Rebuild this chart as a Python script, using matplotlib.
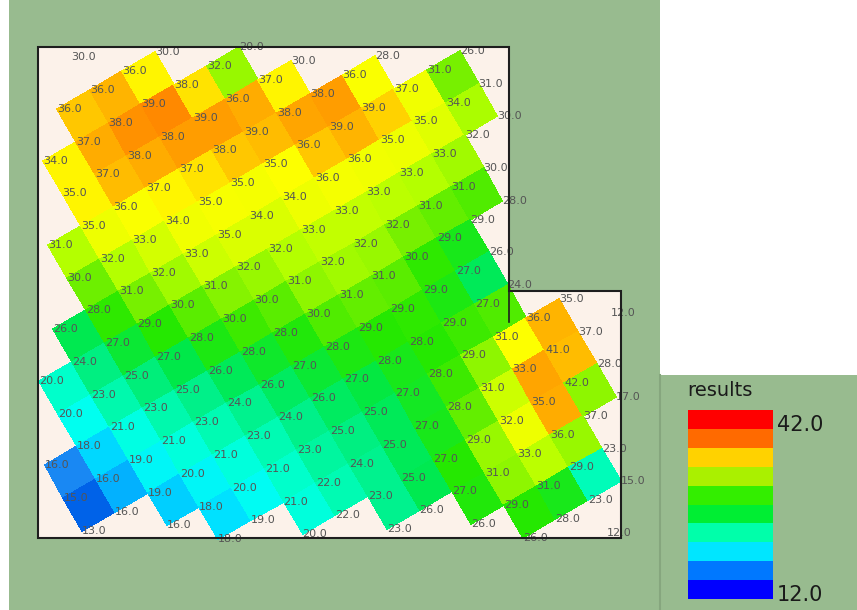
import numpy as np
import matplotlib
matplotlib.use('Agg')
import matplotlib.pyplot as plt
import matplotlib as mpl
from matplotlib.colors import LinearSegmentedColormap, ListedColormap, BoundaryNorm, Normalize
from matplotlib.patches import Polygon, Rectangle
from matplotlib.transforms import Affine2D

# node values of the result grid, one list per grid row j:
# (first column index i, values along the row)
row_m1 = (1, [30])
row_00 = (0, [36, 36, 36, 30])
row_01 = (-1, [34, 37, 38, 39, 38, 32, 20])
row_02 = (-1, [35, 37, 38, 38, 39, 36, 37, 30])
row_03 = (-2, [31, 35, 36, 37, 37, 38, 39, 38, 38, 36, 28])
row_04 = (-2, [30, 32, 33, 34, 35, 35, 35, 36, 39, 39, 37, 31, 26])
row_05 = (-3, [26, 28, 31, 32, 33, 35, 34, 34, 36, 36, 35, 35, 34, 31])
row_06 = (-4, [20, 24, 27, 29, 30, 31, 32, 32, 33, 33, 33, 33, 33, 32, 30])
row_07 = (-4, [20, 23, 25, 27, 28, 30, 30, 31, 32, 32, 32, 31, 31, 30])
row_08 = (-5, [16, 18, 21, 23, 25, 26, 28, 28, 30, 31, 31, 30, 29, 29, 28])
row_09 = (-5, [15, 16, 19, 21, 23, 24, 26, 27, 28, 29, 29, 29, 27, 26])
row_10 = (-5, [13, 16, 19, 20, 21, 23, 24, 26, 27, 28, 28, 29, 27, 24])
row_11 = (-3, [16, 18, 20, 21, 23, 25, 25, 27, 28, 29, 31, 36, 35])
row_12 = (-2, [18, 19, 21, 22, 24, 25, 27, 28, 31, 33, 41, 37, 12])
row_13 = (0, [20, 22, 23, 25, 27, 29, 32, 35, 42, 28])
row_14 = (2, [23, 26, 27, 31, 33, 36, 37, 17])
row_15 = (4, [26, 29, 31, 29, 23])
row_16 = (5, [26, 28, 23, 15])
row_17 = (7, [12])

rows = [row_m1, row_00, row_01, row_02, row_03, row_04, row_05, row_06, row_07,
        row_08, row_09, row_10, row_11, row_12, row_13, row_14, row_15, row_16, row_17]
j_first = -1

# legend
legend_title = 'results'
legend_edges = [12, 15, 18, 21, 24, 27, 30, 33, 36, 39, 42]
legend_colors = ['#0000ff', '#0078ff', '#00e6ff', '#00ffaa', '#00ee33',
                 '#33ee00', '#aaf000', '#ffd200', '#ff6a00', '#ff0000']

# colour ramp used for the cells
cell_stops = [12, 15, 16.5, 17.5, 19, 20.5, 22, 24.5, 26.5, 28.5, 30.5, 32,
              34, 35.5, 36.3, 37, 38.5, 42]
cell_colors = ['#0000ff', '#0064e8', '#1e90f5', '#00b4ff', '#00ecff', '#00fff0',
               '#00ffc4', '#00f088', '#00e848', '#26e800', '#78f000', '#b4ff00',
               '#eeff00', '#ffff00', '#ffe000', '#ffbe00', '#ff8c00', '#ff2000']
vmin, vmax = 12, 42

# build the node array (NaN where there is no node)
i_min = min(r[0] for r in rows)
i_max = max(r[0] + len(r[1]) - 1 for r in rows)
n_i = i_max - i_min + 1
n_j = len(rows)
V = np.full((n_j, n_i), np.nan)
for k, (i0, vals) in enumerate(rows):
    V[k, i0 - i_min:i0 - i_min + len(vals)] = vals

# cell value = mean of its four corners, only where all corners exist
C = (V[:-1, :-1] + V[:-1, 1:] + V[1:, :-1] + V[1:, 1:]) / 4.0
C = np.ma.masked_invalid(C)
I, J = np.meshgrid(np.arange(i_min, i_max + 1), np.arange(j_first, j_first + n_j))

green = '#98bb8f'
cream = '#fcf2ea'

fig = plt.figure(figsize=(8.57, 6.10), dpi=100)
fig.patch.set_facecolor(green)
ax = fig.add_axes([0, 0, 1, 1])
ax.set_xlim(0, 857)
ax.set_ylim(610, 0)
ax.set_axis_off()

# panel backgrounds
ax.add_patch(Rectangle((0, 0), 9, 610, facecolor='white', edgecolor='none', zorder=0))
ax.add_patch(Rectangle((660, 0), 197, 375, facecolor='white', edgecolor='none', zorder=0))
ax.plot([660, 660], [375, 610], color='#86a67e', lw=1.5, zorder=0)

# L-shaped plot area
outline = [(38, 47), (509, 47), (509, 291), (621, 291), (621, 538), (38, 538)]
ax.add_patch(Polygon(outline, closed=True, facecolor=cream, edgecolor='none', zorder=1))

# rotated grid: 37.8 px per cell, turned by 30 degrees
grid_tf = Affine2D().scale(37.77).rotate_deg(-30).translate(57, 109) + ax.transData

cell_cmap = LinearSegmentedColormap.from_list(
    'cells', [((s - vmin) / (vmax - vmin), c) for s, c in zip(cell_stops, cell_colors)])
ax.pcolormesh(I, J, C, cmap=cell_cmap, norm=Normalize(vmin, vmax), shading='flat',
              edgecolors='face', linewidth=0.3, transform=grid_tf, zorder=2)

# node labels
for k, (i0, vals) in enumerate(rows):
    j = j_first + k
    for n, v in enumerate(vals):
        ax.text(i0 + n, j, f'{v:.1f}', transform=grid_tf, ha='left', va='center',
                fontsize=8, color='#555555', zorder=4)

# frame on top
ax.add_patch(Polygon(outline, closed=True, facecolor='none', edgecolor='#1e1e1e',
                     lw=1.5, zorder=5))
ax.plot([509, 509], [291, 322], color='#1e1e1e', lw=1.2, zorder=5)

# legend bar
cax = fig.add_axes([688 / 857, 1 - 599 / 610, 85 / 857, 189 / 610])
cb = mpl.colorbar.ColorbarBase(cax, cmap=ListedColormap(legend_colors),
                               norm=BoundaryNorm(legend_edges, len(legend_colors)),
                               orientation='vertical')
cb.outline.set_visible(False)
cax.set_yticks([])
cax.set_yticks([], minor=True)
cax.tick_params(which='both', length=0, labelright=False, labelleft=False)
ax.text(687, 391, legend_title, fontsize=14, color='#1a1a1a', ha='left', va='center')
ax.text(777, 425, f'{legend_edges[-1]:.1f}', fontsize=15, color='#1a1a1a',
        ha='left', va='center')
ax.text(777, 595, f'{legend_edges[0]:.1f}', fontsize=15, color='#1a1a1a',
        ha='left', va='center')

fig.savefig('out.png', dpi=100, facecolor=fig.get_facecolor())
